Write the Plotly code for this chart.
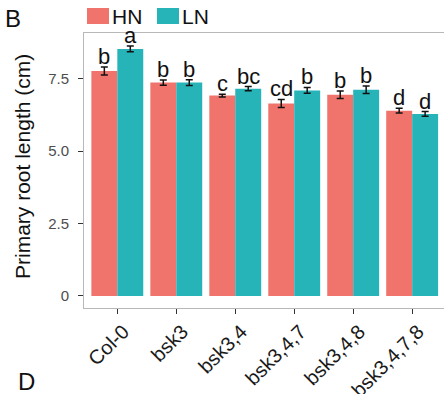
import plotly.graph_objects as go

# Primary root length of bsk mutants under high (HN) and low (LN) nitrogen
genotypes = ["Col-0", "bsk3", "bsk3,4", "bsk3,4,7", "bsk3,4,8", "bsk3,4,7,8"]
hn_mean = [7.76, 7.36, 6.91, 6.64, 6.94, 6.39]
hn_err = [0.14, 0.09, 0.05, 0.14, 0.13, 0.08]
ln_mean = [8.52, 7.36, 7.15, 7.09, 7.11, 6.28]
ln_err = [0.10, 0.10, 0.07, 0.10, 0.13, 0.08]
hn_letters = ["b", "b", "c", "cd", "b", "d"]
ln_letters = ["a", "b", "bc", "b", "b", "d"]
y_ticks = [0, 2.5, 5.0, 7.5]
y_tick_text = ["0", "2.5", "5.0", "7.5"]

HN_COLOR = "#F0746C"
LN_COLOR = "#27B4B8"
FONT = "Liberation Sans, Arial, sans-serif"

W, H = 444, 394
L, R, T, B = 84, 0, 33, 86
pw, ph = W - L - R, H - T - B

fig = go.Figure()
for name, mean, err, color in [("HN", hn_mean, hn_err, HN_COLOR),
                               ("LN", ln_mean, ln_err, LN_COLOR)]:
    fig.add_trace(go.Bar(
        name=name, x=genotypes, y=mean, marker_color=color,
        marker_line_width=0, showlegend=False,
        error_y=dict(type="data", array=err, color="#111111",
                     thickness=1.5, width=3.5),
    ))

# significance letters above each error bar
half = 0.22
for i, g in enumerate(genotypes):
    for off, mean, err, lab in [(-half, hn_mean[i], hn_err[i], hn_letters[i]),
                                (half, ln_mean[i], ln_err[i], ln_letters[i])]:
        fig.add_annotation(x=i + off, y=mean + err, text=lab, showarrow=False,
                           xref="x", yref="y", yanchor="bottom", yshift=-3,
                           borderpad=0,
                           font=dict(family=FONT, size=22, color="#111111"))

def px_x(p):
    return (p - L) / pw

def px_y(p):
    return (H - B - p) / ph

# legend keys drawn at the top-left
for name, color, x0, x1, tx in [("HN", HN_COLOR, 87, 109, 111),
                                ("LN", LN_COLOR, 157, 179, 181)]:
    fig.add_shape(type="rect", xref="paper", yref="paper",
                  x0=px_x(x0), x1=px_x(x1), y0=px_y(24), y1=px_y(8),
                  line_width=0, fillcolor=color)
    fig.add_annotation(xref="paper", yref="paper", x=px_x(tx), y=px_y(16),
                       xanchor="left", yanchor="middle", text=name,
                       showarrow=False, borderpad=0,
                       font=dict(family=FONT, size=21, color="#111111"))

# axis title and panel tags
fig.add_annotation(xref="paper", yref="paper", x=px_x(22), y=px_y(167),
                   text="Primary root length (cm)", textangle=-90,
                   showarrow=False, xanchor="center", yanchor="middle",
                   font=dict(family=FONT, size=21, color="#111111"))
fig.add_annotation(xref="paper", yref="paper", x=px_x(3), y=px_y(19),
                   text="B", showarrow=False, xanchor="left", yanchor="middle",
                   font=dict(family=FONT, size=24, color="#111111"))
fig.add_annotation(xref="paper", yref="paper", x=px_x(17), y=px_y(381),
                   text="D", showarrow=False, xanchor="left", yanchor="middle",
                   borderpad=0,
                   font=dict(family=FONT, size=24, color="#111111"))

fig.update_layout(
    width=W, height=H,
    margin=dict(l=L, r=R, t=T, b=B, autoexpand=False),
    paper_bgcolor="white", plot_bgcolor="white",
    barmode="group", bargap=0.12, bargroupgap=0,
    showlegend=False,
)
fig.update_xaxes(
    type="category", range=[-0.565, 5.54], showgrid=False, zeroline=False,
    showline=True, mirror=True, linecolor="#B8B8B8", linewidth=1,
    ticks="outside", ticklen=5, tickwidth=1, tickcolor="#333333",
    tickangle=-45, tickfont=dict(family=FONT, size=20, color="#1a1a1a"),
    ticklabelshift=6, ticklabelstandoff=-2,
    automargin=False,
)
fig.update_yaxes(
    range=[-0.414, 9.069], showgrid=False, zeroline=False,
    showline=True, mirror=False, linecolor="#B8B8B8", linewidth=1,
    tickmode="array", tickvals=y_ticks, ticktext=y_tick_text,
    ticks="outside", ticklen=5, tickwidth=1, tickcolor="#333333",
    tickfont=dict(family=FONT, size=15, color="#4d4d4d"),
    ticklabelstandoff=6, automargin=False,
)

fig.write_html("out.html")
